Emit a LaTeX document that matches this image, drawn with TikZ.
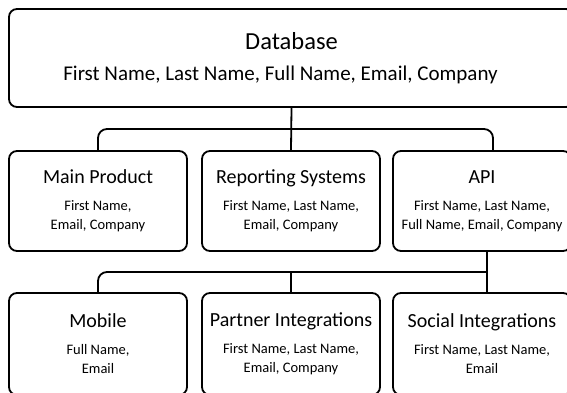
\documentclass[tikz,border=0pt]{standalone}
\usepackage{fontspec}
\setmainfont{Carlito}
\usetikzlibrary{calc}
\tikzset{
    my-line/.style={
        line width=1.8pt, line cap=round, line join=round
    },
    my-box/.style={
        my-line, draw, rounded corners=8pt, minimum width=178pt, minimum height=100pt,
        inner sep=0pt, align=center, font=\fontsize{14.5}{19}\selectfont
    },
    my-wire/.style={
        my-line, rounded corners=9pt
    },
}
\newcommand{\boxtitle}[1]{{\fontsize{20}{22}\selectfont #1}\\[8pt]}

\begin{document}
\begin{tikzpicture}[x=1pt, y=-1pt]
        \useasboundingbox (0,0) rectangle (567,392);
        \clip (0,0) rectangle (567,392);

        % DATABASE
        \node[my-box, minimum width=565pt, minimum height=98pt, font=\fontsize{21}{24}\selectfont] (db) at (291.5,58)
            {{\fontsize{24.5}{27}\selectfont Database}\\[7pt] First Name, Last Name, Full Name, Email, Company\hspace*{22pt}};

        % FIRST ROW
        \node[my-box] (main)   at (98,201)  {\boxtitle{Main Product} First Name,\\ Email, Company};
        \node[my-box] (report) at (291,201) {\boxtitle{Reporting Systems} First Name, Last Name,\\ Email, Company};
        \node[my-box] (api)    at (482,201) {\boxtitle{API} First Name, Last Name,\\ Full Name, Email, Company};

        % SECOND ROW
        \node[my-box, minimum height=102pt] (mobile)  at (98,344)  {\boxtitle{Mobile} Full Name,\\ Email};
        \node[my-box, minimum height=102pt] (partner) at (291,344) {\boxtitle{Partner Integrations} First Name, Last Name,\\ Email, Company};
        \node[my-box, minimum height=102pt] (social)  at (482,344) {\boxtitle{Social Integrations} First Name, Last Name,\\ Email};

        % BUS POINTS
        \coordinate (TOPBUS) at ($(db.south)!0.5!(report.north)$);
        \coordinate (APIIN)  at ($(api.north) + (11,0)$);
        \coordinate (APIOUT) at ($(api.south) + (5,0)$);
        \coordinate (SOCIN)  at ($(social.north) + (5,0)$);
        \coordinate (LOWBUS) at ($(APIOUT)!0.5!(SOCIN)$);

        % DATABASE TO FIRST ROW
        \draw[my-line] (db.south) -- (report.north);
        \draw[my-wire] (main.north) |- (TOPBUS) -| (APIIN);

        % API TO SECOND ROW
        \draw[my-line] (APIOUT) -- (SOCIN);
        \draw[my-wire] (mobile.north) |- (LOWBUS);
        \draw[my-line] (partner.north) -- (partner.north |- LOWBUS);

\end{tikzpicture}
\end{document}
